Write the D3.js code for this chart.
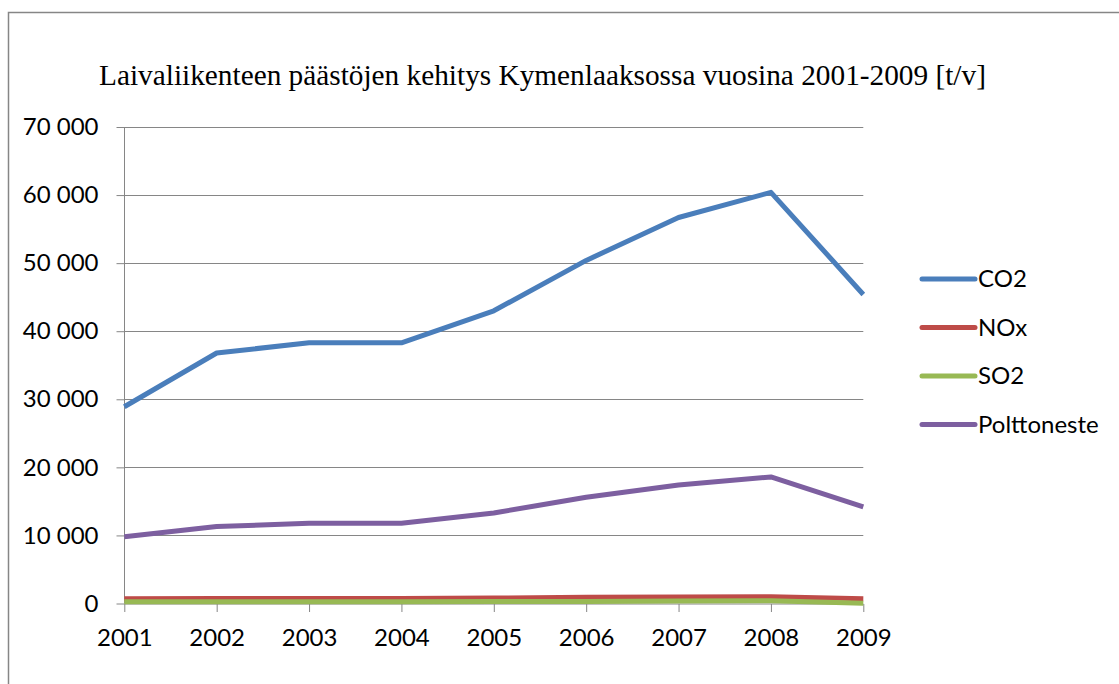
<!DOCTYPE html>
<html><head><meta charset="utf-8">
<script src="https://cdn.jsdelivr.net/npm/d3@7/dist/d3.min.js"></script>
<style>body{margin:0;background:#fff}svg{display:block}</style>
</head><body>
<svg id="c" width="1119" height="684"></svg>
<script>
const years = [2001,2002,2003,2004,2005,2006,2007,2008,2009];
const co2 = [28900,36800,38300,38300,43000,50400,56700,60400,45400];
const nox = [700,750,750,750,800,900,950,1000,700];
const so2 = [250,250,250,250,280,300,350,400,50];
const polttoneste = [9800,11300,11800,11800,13300,15600,17400,18600,14200];
const seriesNames = ["CO2","NOx","SO2","Polttoneste"];
const seriesColors = ["#4a7ebb","#be4b48","#98b954","#7d5fa0"];
const yTicks = [0,10000,20000,30000,40000,50000,60000,70000];
const title = "Laivaliikenteen päästöjen kehitys Kymenlaaksossa vuosina 2001-2009 [t/v]";

const svg = d3.select("#c");
const x = d3.scalePoint().domain(years).range([124.3, 863.3]);
const y = d3.scaleLinear().domain([0,70000]).range([603.5,127]);

// frame
svg.append("path").attr("d","M8.5,684 V12.5 H1119").attr("fill","none").attr("stroke","#868686").attr("stroke-width",1.5);

svg.append("text").attr("x",542.5).attr("y",85).attr("text-anchor","middle")
  .attr("font-family","'Liberation Serif','Times New Roman',serif").attr("font-size",29.3).attr("fill","#000").text(title);

const fmt = v => d3.format(",")(v).replace(/,/g," ");
// grid
svg.append("g").selectAll("line").data(yTicks.filter(d=>d>0)).join("line")
  .attr("x1",124.3).attr("x2",863.3).attr("y1",d=>Math.round(y(d))+0.5).attr("y2",d=>Math.round(y(d))+0.5)
  .attr("stroke","#868686").attr("stroke-width",1);

const fontF = "Lato";
const fs = 24;
const yAxis = svg.append("g").attr("transform","translate(124.5,0)")
  .call(d3.axisLeft(y).tickValues(yTicks).tickFormat(fmt).tickSize(8).tickPadding(18));
yAxis.select(".domain").attr("stroke","#868686").attr("d","M0,"+y(70000)+"V"+y(0));
yAxis.selectAll(".tick line").attr("stroke","#868686");
yAxis.selectAll("text").attr("font-family",fontF).attr("font-size",fs).attr("fill","#000");

const xAxis = svg.append("g").attr("transform","translate(0,604)")
  .call(d3.axisBottom(x).tickSize(8).tickPadding(17));
xAxis.select(".domain").attr("stroke","#868686").attr("d","M124.3,0H863.3");
xAxis.selectAll(".tick line").attr("stroke","#868686");
xAxis.selectAll("text").attr("font-family",fontF).attr("font-size",fs).attr("fill","#000");

const data = [co2,nox,so2,polttoneste];
const line = d3.line().x((d,i)=>x(years[i])).y(d=>y(d));
data.forEach((s,i)=>{
  svg.append("path").attr("d",line(s)).attr("fill","none").attr("stroke",seriesColors[i])
    .attr("stroke-width",5).attr("stroke-linejoin","round").attr("stroke-linecap","butt");
});

// legend
const lg = svg.append("g");
seriesNames.forEach((n,i)=>{
  const yy = 279 + i*48.5;
  lg.append("line").attr("x1",922).attr("x2",975).attr("y1",yy).attr("y2",yy)
    .attr("stroke",seriesColors[i]).attr("stroke-width",5).attr("stroke-linecap","round");
  lg.append("text").attr("x",978).attr("y",yy).attr("dy","0.35em")
    .attr("font-family",fontF).attr("font-size",fs).attr("fill","#000").text(n);
});
</script>
</body></html>
